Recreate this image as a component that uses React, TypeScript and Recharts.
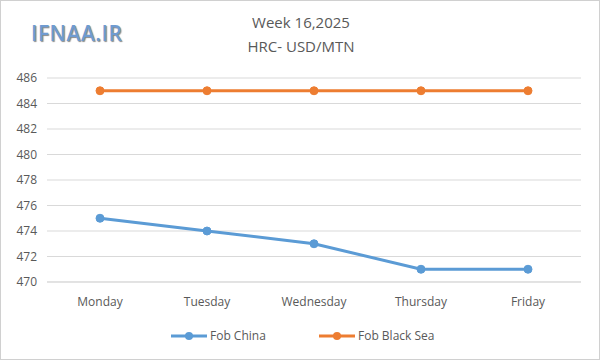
import React from "react";
import { LineChart, Line, XAxis, YAxis, CartesianGrid } from "recharts";

const days = ["Monday", "Tuesday", "Wednesday", "Thursday", "Friday"];
const fobChina = [475, 474, 473, 471, 471];
const fobBlackSea = [485, 485, 485, 485, 485];
const yTicks = [470, 472, 474, 476, 478, 480, 482, 484, 486];

const data = days.map((d, i) => ({ day: d, china: fobChina[i], blackSea: fobBlackSea[i] }));

const FONT = "'Open Sans', 'Liberation Sans', sans-serif";
const TXT = "#595959";

const legendItems = [
  { label: "Fob China", color: "#5B9BD5", left: 170 },
  { label: "Fob Black Sea", color: "#ED7D31", left: 318 },
];

export default function App() {
  return (
    <div style={{ position: "absolute", left: 0, top: 0, width: 600, height: 360, background: "#fff", boxSizing: "border-box", border: "1px solid #d0d0d0" }}>
      <div style={{ position: "absolute", left: 30, top: 18, fontFamily: FONT, fontSize: 21, fontWeight: 600, color: "#6f9bd1", textShadow: "1px 1px 1px #8a8a8a", letterSpacing: 0.5 }}>
        IFNAA.IR
      </div>
      <div style={{ position: "absolute", left: 0, width: 600, top: 9, textAlign: "center", fontFamily: FONT, fontSize: 15, color: TXT, lineHeight: "24px" }}>
        <div>Week 16,2025</div>
        <div>HRC- USD/MTN</div>
      </div>
      <div style={{ position: "absolute", left: -1, top: -1 }}>
        <LineChart width={600} height={360} data={data} margin={{ top: 78, right: 19, bottom: 48, left: 0 }}>
          <CartesianGrid vertical={false} stroke="#d9d9d9" />
          <XAxis
            dataKey="day"
            height={30}
            padding={{ left: 53, right: 53 }}
            axisLine={{ stroke: "#d9d9d9" }}
            tickLine={false}
            tick={{ fill: TXT, fontSize: 12, fontFamily: FONT }}
            tickMargin={9}
          />
          <YAxis
            domain={[470, 486]}
            ticks={yTicks}
            width={47}
            axisLine={false}
            tickLine={false}
            tickSize={0}
            tickMargin={10}
            tick={{ fill: TXT, fontSize: 12, fontFamily: FONT }}
          />
          <Line dataKey="china" name="Fob China" stroke="#5B9BD5" strokeWidth={3} dot={{ r: 4, fill: "#5B9BD5", stroke: "#5B9BD5", strokeWidth: 1 }} isAnimationActive={false} />
          <Line dataKey="blackSea" name="Fob Black Sea" stroke="#ED7D31" strokeWidth={3} dot={{ r: 4, fill: "#ED7D31", stroke: "#ED7D31", strokeWidth: 1 }} isAnimationActive={false} />
        </LineChart>
      </div>
      {legendItems.map((it) => (
        <div key={it.label} style={{ position: "absolute", left: it.left, top: 327, display: "flex", alignItems: "center", fontFamily: FONT, fontSize: 12, color: TXT, lineHeight: "16px" }}>
          <svg width={36} height={10} style={{ marginRight: 3 }}>
            <line x1={0} y1={5} x2={36} y2={5} stroke={it.color} strokeWidth={3} />
            <circle cx={18} cy={5} r={4} fill={it.color} />
          </svg>
          <span>{it.label}</span>
        </div>
      ))}
    </div>
  );
}
